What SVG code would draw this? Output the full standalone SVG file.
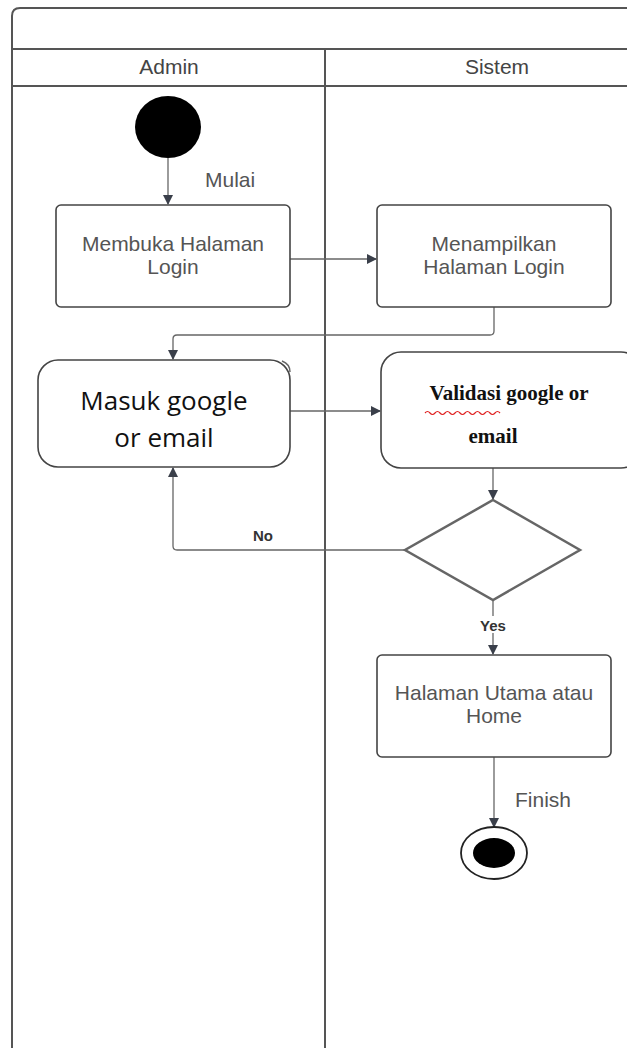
<svg xmlns="http://www.w3.org/2000/svg" width="627" height="1048" viewBox="0 0 627 1048">
  <defs>
    <marker id="arrow" viewBox="0 0 10 10" refX="9" refY="5" markerWidth="10" markerHeight="10" markerUnits="userSpaceOnUse" orient="auto">
      <path d="M0,0 L10,5 L0,10 z" fill="#3a3f4a"/>
    </marker>
    <style>
      .frame { fill: none; stroke: #555; stroke-width: 2; }
      .box { fill: #fff; stroke: #444; stroke-width: 1.6; }
      .lane { font-family: "Liberation Sans", Arial, sans-serif; font-size: 21px; fill: #444; text-anchor: middle; }
      .lbl { font-family: "Liberation Sans", Arial, sans-serif; font-size: 21px; fill: #555; text-anchor: middle; }
      .edge { fill: none; stroke: #666; stroke-width: 1.3; }
      .guard { font-family: "Liberation Sans", Arial, sans-serif; font-size: 15px; font-weight: bold; fill: #333; text-anchor: middle; }
      .note { font-family: "Liberation Sans", Arial, sans-serif; font-size: 21px; fill: #555; }
      .cal { font-family: "Open Sans", "Noto Sans", sans-serif; font-size: 26px; fill: #111; text-anchor: middle; }
      .tnr { font-family: "Liberation Serif", "Times New Roman", serif; font-size: 21px; font-weight: bold; fill: #111; text-anchor: middle; }
    </style>
  </defs>
  <rect width="627" height="1048" fill="#fff"/>

  <!-- swimlane frame -->
  <g id="pool">
    <path class="frame" d="M12,1048 V16 Q12,8 20,8 H640"/>
    <line class="frame" x1="12" y1="49" x2="627" y2="49"/>
    <line class="frame" x1="12" y1="86" x2="627" y2="86"/>
    <line class="frame" x1="325" y1="49" x2="325" y2="1048"/>
    <text class="lane" x="169" y="74">Admin</text>
    <text class="lane" x="497" y="74">Sistem</text>
  </g>

  <!-- connectors -->
  <g id="connectors">
    <line class="edge" x1="168" y1="158" x2="168" y2="204" marker-end="url(#arrow)"/>
    <text class="note" x="205" y="187">Mulai</text>
    <line class="edge" x1="290" y1="259" x2="376" y2="259" marker-end="url(#arrow)"/>
    <path class="edge" d="M494,307 V331 Q494,335 490,335 H177 Q173,335 173,339 V359" marker-end="url(#arrow)"/>
    <line class="edge" x1="290" y1="411" x2="380" y2="411" marker-end="url(#arrow)"/>
    <line class="edge" x1="493" y1="468" x2="493" y2="499" marker-end="url(#arrow)"/>
    <path class="edge" d="M405,550 H177 Q173,550 173,546 V468" marker-end="url(#arrow)"/>
    <text class="guard" x="263" y="541">No</text>
    <line class="edge" x1="493" y1="600" x2="493" y2="654" marker-end="url(#arrow)"/>
    <rect x="476" y="616" width="34" height="17" fill="#fff"/>
    <text class="guard" x="493" y="631">Yes</text>
    <line class="edge" x1="494" y1="757" x2="494" y2="827" marker-end="url(#arrow)"/>
    <text class="note" x="515" y="807">Finish</text>
  </g>

  <g id="start">
    <ellipse cx="168" cy="127" rx="33" ry="31" fill="#000"/>
  </g>

  <g id="membuka">
    <rect class="box" x="56" y="205" width="234" height="102" rx="5"/>
    <text class="lbl" x="173" y="251">Membuka Halaman</text>
    <text class="lbl" x="173" y="274">Login</text>
  </g>

  <g id="menampilkan">
    <rect class="box" x="377" y="205" width="234" height="102" rx="5"/>
    <text class="lbl" x="494" y="251">Menampilkan</text>
    <text class="lbl" x="494" y="274">Halaman Login</text>
  </g>

  <g id="masuk">
    <rect class="box" x="38" y="360" width="252" height="107" rx="20"/>
    <path d="M282,361 Q290,364 290,372" fill="none" stroke="#666" stroke-width="1.5"/>
    <text class="cal" x="164" y="410">Masuk google</text>
    <text class="cal" x="164" y="447">or email</text>
  </g>

  <g id="validasi">
    <rect class="box" x="381" y="352" width="260" height="116" rx="20"/>
    <text class="tnr" x="509" y="400">Validasi google or</text>
    <path d="M425,413 q2.5,-3 5,0 t5,0 t5,0 t5,0 t5,0 t5,0 t5,0 t5,0 t5,0 t5,0 t5,0 t5,0 t5,0 t5,0 t5,0" fill="none" stroke="#e02020" stroke-width="1.2"/>
    <text class="tnr" x="493" y="443">email</text>
  </g>

  <g id="decision">
    <polygon points="493,500 580,550 493,600 405,550" fill="#fff" stroke="#666" stroke-width="2.5"/>
  </g>

  <g id="home">
    <rect class="box" x="377" y="655" width="234" height="102" rx="5"/>
    <text class="lbl" x="494" y="700">Halaman Utama atau</text>
    <text class="lbl" x="494" y="723">Home</text>
  </g>

  <g id="finish">
    <ellipse cx="494" cy="853" rx="33" ry="26" fill="#fff" stroke="#222" stroke-width="1.8"/>
    <ellipse cx="494" cy="853" rx="21" ry="15" fill="#000"/>
  </g>
</svg>
